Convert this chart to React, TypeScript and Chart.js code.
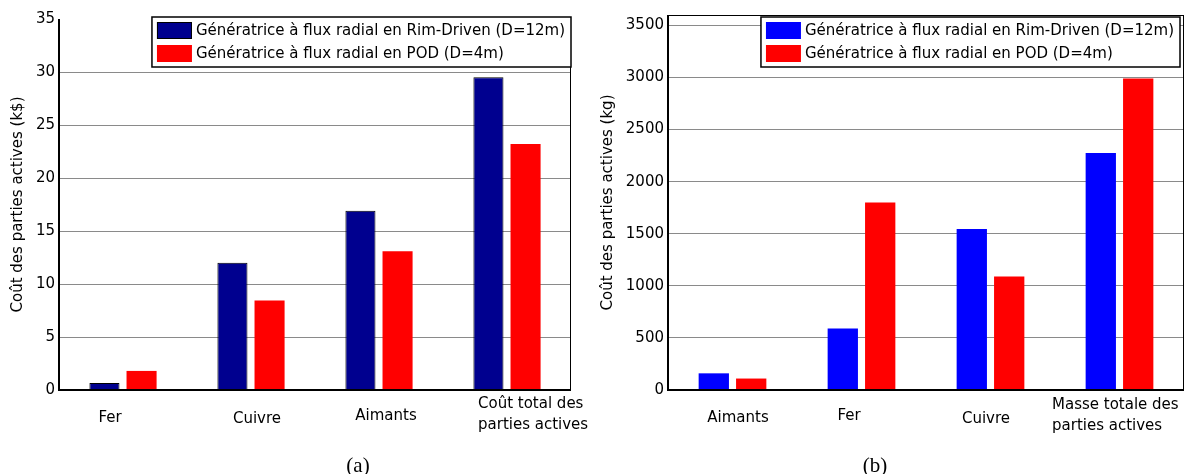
import React, { useEffect, useRef } from "react";
import { Chart, registerables } from "chart.js";

Chart.register(...registerables);

// ---------- data ----------
const SERIES_LABELS = [
  "Génératrice à flux radial en Rim-Driven (D=12m)",
  "Génératrice à flux radial en POD (D=4m)",
];

const COST_CATEGORIES = [["Fer"], ["Cuivre"], ["Aimants"], ["Coût total des", "parties actives"]];
const COST_RIM = [0.65, 12.0, 16.9, 29.5];
const COST_POD = [1.8, 8.45, 13.1, 23.2];
const COST_TICKS = [0, 5, 10, 15, 20, 25, 30, 35];
const COST_TITLE = "Coût des parties actives (k$)";

const MASS_CATEGORIES = [["Aimants"], ["Fer"], ["Cuivre"], ["Masse totale des", "parties actives"]];
const MASS_RIM = [160, 590, 1545, 2275];
const MASS_POD = [110, 1800, 1090, 2990];
const MASS_TICKS = [0, 500, 1000, 1500, 2000, 2500, 3000, 3500];
const MASS_TITLE = "Coût des parties actives (kg)";

// ---------- style / layout ----------
const FONT = "'DejaVu Sans', sans-serif";
const FONT_SIZE = 15;

type LabelLayout = { dx: number; y: number; align: "center" | "left" };

interface PanelSpec {
  categories: string[][];
  rim: number[];
  pod: number[];
  ticks: number[];
  max: number;
  title: string;
  rimColor: string;
  rimBorder: number;
  podColor: string;
  canvasWidth: number;
  axisWidth: number;
  padRight: number;
  padTop: number;
  padBottom: number;
  labelLayout: LabelLayout[];
  legendTop: number;
  legendRightInset: number;
  drawTop: boolean;
  hideTopGrid: boolean;
}

const PANEL_A: PanelSpec = {
  categories: COST_CATEGORIES,
  rim: COST_RIM,
  pod: COST_POD,
  ticks: COST_TICKS,
  max: 35,
  title: COST_TITLE,
  rimColor: "#00008F",
  rimBorder: 1,
  podColor: "#FF0000",
  canvasWidth: 590,
  axisWidth: 59,
  padRight: 19,
  padTop: 19,
  padBottom: 84,
  labelLayout: [
    { dx: -13, y: 418, align: "center" },
    { dx: 6, y: 419, align: "center" },
    { dx: 7, y: 416, align: "center" },
    { dx: -29, y: 404, align: "left" },
  ],
  legendTop: 17,
  legendRightInset: 0,
  drawTop: false,
  hideTopGrid: true,
};

const PANEL_B: PanelSpec = {
  categories: MASS_CATEGORIES,
  rim: MASS_RIM,
  pod: MASS_POD,
  ticks: MASS_TICKS,
  max: 3600,
  title: MASS_TITLE,
  rimColor: "#0000FF",
  rimBorder: 0,
  podColor: "#FF0000",
  canvasWidth: 599,
  axisWidth: 78,
  padRight: 5,
  padTop: 15,
  padBottom: 84,
  labelLayout: [
    { dx: 5.5, y: 418, align: "center" },
    { dx: -12.5, y: 416, align: "center" },
    { dx: -4.5, y: 419.5, align: "center" },
    { dx: -67.5, y: 405, align: "left" },
  ],
  legendTop: 17,
  legendRightInset: 4,
  drawTop: true,
  hideTopGrid: false,
};

function buildConfig(p: PanelSpec): any {
  const framePlugin = {
    id: "frame",
    afterDatasetsDraw(chart: any) {
      const { ctx, chartArea: a } = chart;
      ctx.save();
      ctx.strokeStyle = "#000";
      ctx.lineWidth = 1;
      ctx.beginPath();
      ctx.moveTo(a.right - 0.5, a.top);
      ctx.lineTo(a.right - 0.5, a.bottom);
      if (p.drawTop) {
        ctx.moveTo(a.left, a.top + 0.5);
        ctx.lineTo(a.right, a.top + 0.5);
      }
      ctx.stroke();
      ctx.lineWidth = 2;
      ctx.beginPath();
      ctx.moveTo(a.left, a.top);
      ctx.lineTo(a.left, a.bottom);
      ctx.lineTo(a.right, a.bottom);
      ctx.stroke();
      ctx.restore();
    },
  };

  const labelPlugin = {
    id: "xlabels",
    afterDraw(chart: any) {
      const { ctx } = chart;
      const xs = chart.scales.x;
      ctx.save();
      ctx.fillStyle = "#000";
      ctx.font = `${FONT_SIZE}px ${FONT}`;
      ctx.textBaseline = "middle";
      p.categories.forEach((lines, i) => {
        const L = p.labelLayout[i];
        const cx = xs.getPixelForValue(i) + L.dx;
        ctx.textAlign = L.align;
        lines.forEach((t, j) => ctx.fillText(t, cx, L.y + j * 21));
      });
      ctx.restore();
    },
  };

  const legendPlugin = {
    id: "boxlegend",
    afterDraw(chart: any) {
      const { ctx, chartArea: a } = chart;
      ctx.save();
      ctx.font = `${FONT_SIZE}px ${FONT}`;
      const textW = Math.max(...SERIES_LABELS.map((l) => ctx.measureText(l).width));
      const w = 5 + 35 + 4 + textW + 6;
      const h = 50;
      const x = a.right - p.legendRightInset - w;
      const y = p.legendTop;
      ctx.fillStyle = "#fff";
      ctx.fillRect(x, y, w, h);
      ctx.strokeStyle = "#000";
      ctx.lineWidth = 1.5;
      ctx.strokeRect(x, y, w, h);
      chart.data.datasets.forEach((ds: any, i: number) => {
        const sy = y + 5 + i * 23;
        ctx.fillStyle = ds.backgroundColor;
        ctx.fillRect(x + 5, sy, 35, 17);
        if (ds.borderWidth) {
          ctx.strokeStyle = "#000";
          ctx.lineWidth = 1;
          ctx.strokeRect(x + 5.5, sy + 0.5, 34, 16);
        }
        ctx.fillStyle = "#000";
        ctx.textAlign = "left";
        ctx.textBaseline = "middle";
        ctx.fillText(ds.label, x + 44, sy + 9);
      });
      ctx.restore();
    },
  };

  return {
    type: "bar",
    data: {
      labels: p.categories.map((c) => c.join(" ")),
      datasets: [
        {
          label: SERIES_LABELS[0],
          data: p.rim,
          backgroundColor: p.rimColor,
          borderColor: "#000",
          borderWidth: p.rimBorder,
          categoryPercentage: 0.58,
          barPercentage: 0.81,
        },
        {
          label: SERIES_LABELS[1],
          data: p.pod,
          backgroundColor: p.podColor,
          borderWidth: 0,
          categoryPercentage: 0.58,
          barPercentage: 0.81,
        },
      ],
    },
    options: {
      responsive: false,
      animation: false,
      devicePixelRatio: 1,
      layout: { padding: { left: 0, right: p.padRight, top: p.padTop, bottom: p.padBottom } },
      plugins: { legend: { display: false }, tooltip: { enabled: false } },
      scales: {
        x: { type: "category", display: false, offset: true, grid: { display: false } },
        y: {
          type: "linear",
          min: 0,
          max: p.max,
          afterFit: (s: any) => {
            s.width = p.axisWidth;
          },
          afterBuildTicks: (s: any) => {
            s.ticks = p.ticks.map((v) => ({ value: v }));
          },
          border: { display: false },
          grid: {
            drawTicks: false,
            lineWidth: 1,
            color: (c: any) =>
              p.hideTopGrid && c.tick && c.tick.value === p.max ? "rgba(0,0,0,0)" : "#8a8a8a",
          },
          ticks: {
            color: "#000",
            padding: 4,
            font: { family: FONT, size: FONT_SIZE },
            callback: (v: any) => String(v),
          },
          title: {
            display: true,
            text: p.title,
            color: "#000",
            font: { family: FONT, size: FONT_SIZE },
            padding: { top: 9, bottom: 0 },
          },
        },
      },
    },
    plugins: [framePlugin, labelPlugin, legendPlugin],
  };
}

function Panel({ spec, left }: { spec: PanelSpec; left: number }) {
  const ref = useRef<HTMLCanvasElement | null>(null);
  useEffect(() => {
    if (!ref.current) return;
    const chart = new Chart(ref.current, buildConfig(spec));
    return () => chart.destroy();
  }, [spec]);
  return (
    <canvas
      ref={ref}
      width={spec.canvasWidth}
      height={474}
      style={{ position: "absolute", left, top: 0, width: spec.canvasWidth, height: 474 }}
    />
  );
}

const captionStyle = (cx: number): React.CSSProperties => ({
  position: "absolute",
  left: cx - 30,
  width: 60,
  top: 452,
  lineHeight: "26px",
  textAlign: "center",
  fontFamily: "'Liberation Serif', 'Times New Roman', serif",
  fontSize: 21,
  color: "#000",
});

export default function App() {
  return (
    <div
      style={{
        position: "absolute",
        left: 0,
        top: 0,
        width: 1189,
        height: 474,
        background: "#fff",
        overflow: "hidden",
      }}
    >
      <Panel spec={PANEL_A} left={0} />
      <Panel spec={PANEL_B} left={590} />
      <div style={captionStyle(358)}>(a)</div>
      <div style={captionStyle(875)}>(b)</div>
    </div>
  );
}
